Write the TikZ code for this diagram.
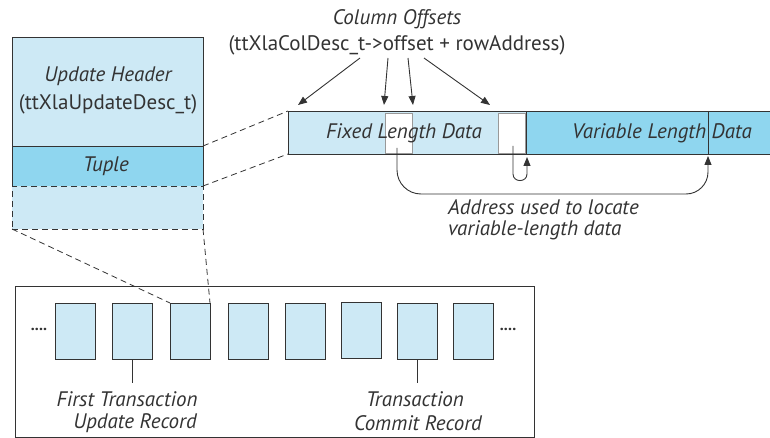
\documentclass[tikz,border=0pt]{standalone}
\usepackage{fontspec}
\setmainfont{PT Sans}
\usetikzlibrary{arrows.meta}
\definecolor{lightb}{HTML}{CDE9F5}
\definecolor{darkb}{HTML}{8FD6EF}
\definecolor{edge}{HTML}{333333}
\begin{document}
\begin{tikzpicture}[x=1pt,y=-1pt,
  box/.style={draw=edge, line width=0.9pt, inner sep=0pt, outer sep=0pt, anchor=north west},
  rec/.style={box, fill=lightb, minimum width=40pt, minimum height=56pt},
  hole/.style={draw=black!40, line width=0.9pt, fill=white, inner sep=0pt, outer sep=0pt, anchor=north west, minimum width=27pt, minimum height=40pt},
  it/.style={font=\itshape\fontsize{21}{25}\selectfont, text=edge, inner sep=0pt},
  rm/.style={font=\fontsize{21}{25}\selectfont, text=edge, inner sep=0pt},
  dl/.style={dashed, dash pattern=on 6pt off 4pt, line width=0.8pt, draw=edge},
  arr/.style={-{Triangle[length=9pt,width=7pt]}, line width=0.9pt, draw=edge},
  tick/.style={line width=0.9pt, draw=edge}]
\useasboundingbox (0,0) rectangle (770,438);

% left update record
\node[box, fill=lightb, minimum width=191pt, minimum height=109pt] (hdr) at (12,37) {};
\node[box, fill=darkb, minimum width=191pt, minimum height=40pt] (tuple) at (12,146) {};
\node[box, fill=lightb, dashed, dash pattern=on 6pt off 4pt, minimum width=191pt, minimum height=43pt] (more) at (12,186) {};
\node[it] (hdrt) at (108,76) {Update Header};
\node[rm] (hdrd) at (108,104) {(ttXlaUpdateDesc\_t)};
\node[it] (tuplet) at (106,166) {Tuple};

% row
\node[box, fill=lightb, minimum width=238pt, minimum height=43pt] (fixed) at (288,111) {};
\node[box, fill=darkb, minimum width=260pt, minimum height=43pt] (var) at (526,111) {};
\node[hole] (wb1) at (385,113) {};
\node[hole] (wb2) at (498,113) {};
\coordinate (divt) at (708,111);
\coordinate (divb) at (708,154);
\draw[tick] (divt) -- (divb);
\node[it] (fixedt) at (404,133) {Fixed Length Data};
\node[it] (vart) at (662,133) {Variable Length Data};

% dashed connectors
\node[rec] (r1) at (55,303) {};
\node[rec] (r2) at (112,303) {};
\node[rec] (r3) at (170,303) {};
\node[rec] (r4) at (228,303) {};
\node[rec] (r5) at (285,303) {};
\node[rec] (r6) at (341,302) {};
\node[rec] (r7) at (397,303) {};
\node[rec] (r8) at (453,303) {};
\draw[dl] (tuple.north east) -- (fixed.north west);
\draw[dl] (tuple.south east) -- (fixed.south west);
\draw[dl] (more.south west) -- (r3.north west);
\draw[dl] (more.south east) -- (r3.north east);

% column offsets
\node[it] (colt) at (397,19) {Column Offsets};
\node[rm] (cold) at (397,45) {(ttXlaColDesc\_t->offset + rowAddress)};
\coordinate (s1) at (360,58); \coordinate (e1) at (298,105);
\coordinate (s2) at (388,58); \coordinate (e2) at (384,105);
\coordinate (s3) at (408,58); \coordinate (e3) at (413,105);
\coordinate (s4) at (424,58); \coordinate (e4) at (490,105);
\draw[arr] (s1) -- (e1);
\draw[arr] (s2) -- (e2);
\draw[arr] (s3) -- (e3);
\draw[arr] (s4) -- (e4);

% address arrows
\coordinate (p1) at (397,148);
\coordinate (q1) at (708,156);
\draw[arr] (p1) -- (397,170) to[out=-90,in=180] (421,194) -- (686,194) to[out=0,in=-90] (708,172) -- (q1);
\coordinate (p2) at (513,146);
\coordinate (q2) at (527,157);
\draw[arr] (p2) -- (513,174) to[out=-90,in=-90,looseness=1.6] (527,174) -- (q2);
\node[it, anchor=west] (addr1) at (448,207) {Address used to locate};
\node[it, anchor=west] (addr2) at (448,230) {variable-length data};

% log buffer
\node[box, minimum width=519pt, minimum height=151pt] (log) at (15,286) {};
\node[rm, font=\bfseries\fontsize{16}{20}\selectfont] (dl) at (39,329) {....};
\node[rm, font=\bfseries\fontsize{16}{20}\selectfont] (dr) at (508,329) {....};
\coordinate (t1) at (132,383);
\coordinate (t2) at (417,383);
\draw[tick] (r2.south) -- (t1);
\draw[tick] (r7.south) -- (t2);
\node[it] (f1) at (127,399) {First Transaction};
\node[it] (f2) at (135,423) {Update Record};
\node[it] (c1) at (415,399) {Transaction};
\node[it] (c2) at (418,423) {Commit Record};
\end{tikzpicture}
\end{document}
